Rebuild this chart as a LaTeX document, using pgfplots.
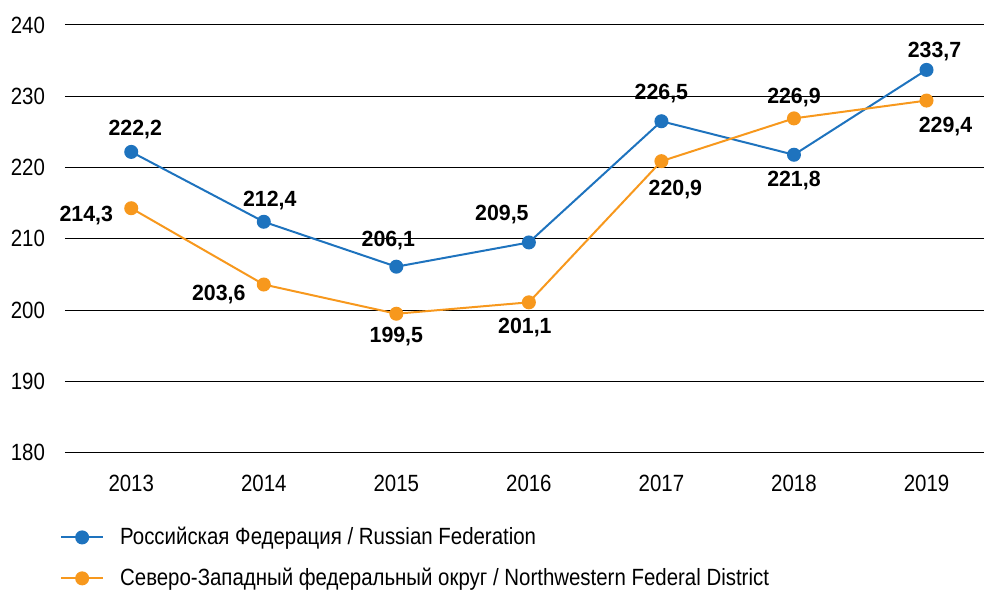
\documentclass[border=0pt]{standalone}
\usepackage{fontspec}
\setmainfont{Liberation Sans}[FakeStretch=0.87]
\newfontfamily\lblfont{Liberation Sans}[FakeStretch=0.97]
\usepackage{pgfplots}
\pgfplotsset{compat=1.18}
\definecolor{cblue}{RGB}{30,115,190}
\definecolor{corange}{RGB}{247,152,29}
\begin{document}
\fontsize{23.5}{27}\selectfont
\begin{tikzpicture}
\begin{axis}[name=ax, scale only axis, width=919pt, height=428pt,
  xmin=2012.5, xmax=2019.43, ymin=180, ymax=240,
  axis line style={draw=none},
  ymajorgrids, grid style={black, line width=1pt},
  xtick={2013,2014,2015,2016,2017,2018,2019},
  ytick={180,190,200,210,220,230,240},
  /pgf/number format/1000 sep={},
  /pgf/number format/assume math mode=true,
  tick style={draw=none},
  ticklabel style={font=\fontsize{23.5}{27}\selectfont},
  yticklabel style={xshift=-12pt},
  xticklabel style={yshift=-14pt},
  clip=false,
  legend style={at={(0,0)}, anchor=north west, xshift=-8pt, yshift=-70pt,
    draw=none, fill=none, row sep=16pt, font=\fontsize{23.5}{27}\selectfont,
    cells={anchor=west}, /tikz/every odd column/.append style={column sep=14pt}},
  legend image code/.code={\draw[mark repeat=2,mark phase=2] plot coordinates {(0pt,0pt) (21pt,0pt) (42pt,0pt)};},
]
\addplot[cblue, line width=2pt, mark=*, mark size=6pt, mark options={solid, fill=cblue}]
  coordinates {(2013,222.2) (2014,212.4) (2015,206.1) (2016,209.5) (2017,226.5) (2018,221.8) (2019,233.7)};
\addlegendentry{Российская Федерация / Russian Federation}
\addplot[corange, line width=2pt, mark=*, mark size=6pt, mark options={solid, fill=corange}]
  coordinates {(2013,214.3) (2014,203.6) (2015,199.5) (2016,201.1) (2017,220.9) (2018,226.9) (2019,229.4)};
\addlegendentry{Северо-Западный федеральный округ / Northwestern Federal District}
\tikzset{lbl/.style={font=\lblfont\fontsize{22}{25}\selectfont\bfseries, inner sep=0pt}}
\node[lbl, xshift=4pt, yshift=22pt] at (axis cs:2013,222.2) {222,2};
\node[lbl, xshift=6pt, yshift=21pt] at (axis cs:2014,212.4) {212,4};
\node[lbl, xshift=-8pt, yshift=26pt] at (axis cs:2015,206.1) {206,1};
\node[lbl, xshift=-27pt, yshift=28pt] at (axis cs:2016,209.5) {209,5};
\node[lbl, xshift=0pt, yshift=28pt] at (axis cs:2017,226.5) {226,5};
\node[lbl, xshift=0pt, yshift=-26pt] at (axis cs:2018,221.8) {221,8};
\node[lbl, xshift=8pt, yshift=18pt] at (axis cs:2019,233.7) {233,7};
\node[lbl, xshift=-45pt, yshift=-7pt] at (axis cs:2013,214.3) {214,3};
\node[lbl, xshift=-45pt, yshift=-10pt] at (axis cs:2014,203.6) {203,6};
\node[lbl, xshift=0pt, yshift=-23pt] at (axis cs:2015,199.5) {199,5};
\node[lbl, xshift=-4pt, yshift=-25pt] at (axis cs:2016,201.1) {201,1};
\node[lbl, xshift=14pt, yshift=-28pt] at (axis cs:2017,220.9) {220,9};
\node[lbl, xshift=0pt, yshift=21pt] at (axis cs:2018,226.9) {226,9};
\node[lbl, xshift=19pt, yshift=-26pt] at (axis cs:2019,229.4) {229,4};
\end{axis}
\path[use as bounding box] ([xshift=-65pt,yshift=25pt]ax.north west) rectangle ([yshift=-136pt]ax.south east);
\end{tikzpicture}
\end{document}
